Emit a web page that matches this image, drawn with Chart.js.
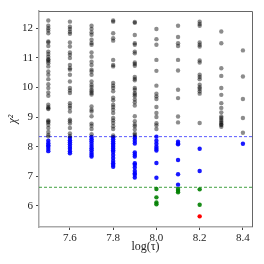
<!DOCTYPE html>
<html>
<head>
<meta charset="utf-8">
<script src="https://cdn.jsdelivr.net/npm/chart.js@4.4.0/dist/chart.umd.min.js"></script>
<style>
    html, body { margin: 0; padding: 0; background: #fff; }
    #wrap { width: 264px; height: 264px; }
</style>
</head>
<body>
<div id="wrap"><canvas id="myChart"></canvas></div>
<script>
// log(tau) columns
const tau = [7.5, 7.6, 7.7, 7.8, 7.9, 8.0, 8.1, 8.2, 8.3, 8.4];

// chi^2 values above the blue cut, one list per column
const chiGrey = [
    [12.26, 12.08, 12.0, 11.92, 11.83, 11.55, 11.52, 11.4, 11.21, 11.13, 11.04, 10.95, 10.93, 10.88, 10.82, 10.71, 10.54, 10.43, 10.28, 10.11, 9.98, 9.83, 9.72, 9.42, 9.34, 9.3, 9.27, 8.89, 8.85, 8.82, 8.74, 8.63, 8.5, 8.4, 8.35],
    [12.22, 12.05, 11.97, 11.88, 11.81, 11.52, 11.38, 11.18, 11.1, 10.99, 10.76, 10.65, 10.6, 10.43, 10.2, 9.98, 9.9, 9.81, 9.47, 9.38, 9.31, 9.19, 8.91, 8.86, 8.78, 8.63, 8.45, 8.36],
    [12.08, 11.97, 11.86, 11.78, 11.61, 11.5, 11.44, 11.18, 11.04, 10.87, 10.76, 10.6, 10.54, 10.43, 10.2, 10.09, 10.02, 9.93, 9.87, 9.81, 9.76, 9.36, 9.25, 9.19, 9.03, 8.78, 8.71, 8.6, 8.42],
    [12.26, 12.22, 11.83, 11.66, 11.58, 10.93, 10.76, 10.71, 10.15, 10.06, 9.98, 9.87, 9.65, 9.57, 9.42, 9.34, 9.25, 9.14, 8.97, 8.89, 8.8, 8.69, 8.6, 8.38],
    [12.21, 12.18, 11.77, 11.49, 11.44, 11.21, 11.15, 10.84, 10.79, 10.73, 10.35, 10.29, 10.24, 9.98, 9.92, 9.81, 9.76, 9.7, 9.59, 9.5, 9.39, 9.03, 8.86, 8.75, 8.69, 8.58, 8.45, 8.4],
    [11.97, 11.63, 11.44, 10.93, 10.56, 10.06, 9.79, 9.7, 9.61, 9.34, 9.14, 9.0, 8.79, 8.72, 8.6],
    [12.08, 11.7, 11.49, 11.4, 10.93, 10.57, 9.92, 9.64, 9.02, 8.82],
    [12.22, 12.14, 12.08, 11.52, 11.44, 11.38, 10.91, 10.84, 10.43, 10.35, 10.28, 10.09, 10.01, 9.95, 9.87, 9.79, 8.8],
    [11.89, 11.49, 10.65, 10.39, 9.98, 9.75, 9.47, 9.31, 9.16, 9.02, 8.97, 8.91, 8.85, 8.8, 8.75, 8.73, 8.67],
    [11.25, 10.37, 9.61, 8.97, 8.47]
];

// between the two cuts
const chiBlue = [
    [8.2, 8.12, 8.05, 8.0, 7.92, 7.85],
    [8.3, 8.22, 8.15, 8.08, 8.0, 7.93, 7.85, 7.78],
    [8.33, 8.25, 8.18, 8.1, 8.02, 7.95, 7.88, 7.8, 7.73, 7.67],
    [8.32, 8.25, 8.18, 8.12, 8.06, 8.0, 7.94, 7.88, 7.82, 7.72, 7.62, 7.52, 7.44, 7.38, 7.32],
    [8.34, 8.28, 8.19, 8.11, 7.81, 7.74, 7.67, 7.44, 7.39, 7.3, 7.18, 7.1, 7.05, 6.96],
    [8.34, 8.2, 8.1, 8.0, 7.93, 7.87, 7.45, 6.95],
    [8.17, 8.11, 8.08, 7.55, 7.07, 6.72],
    [7.93, 7.18],
    [],
    [8.1]
];

// below the green cut
const chiGreen = [[], [], [], [], [], [6.57, 6.29, 6.12, 6.06], [6.57, 6.51, 6.46], [6.56, 6.04], [], []];

// best point
const bestTau = [8.2];
const bestChi = [5.65];

const blueCut = 8.34;
const greenCut = 6.63;
const xRange = [7.457, 8.442];
const yRange = [5.29, 12.58];
const xTicks = [7.6, 7.8, 8.0, 8.2, 8.4];
const yTicks = [6, 7, 8, 9, 10, 11, 12];

function toPoints(groups) {
    let points = [];
    for (let i = 0; i < tau.length; i++) {
        for (let v of groups[i]) {
            points.push({x: tau[i], y: v});
        }
    }
    return points;
}

const serif = "'Liberation Serif', 'DejaVu Serif', serif";

const frame = {
    id: "frame",
    afterDraw(chart) {
        const a = chart.chartArea;
        const ctx = chart.ctx;
        ctx.save();
        ctx.strokeStyle = "#666";
        ctx.lineWidth = 1;
        ctx.beginPath();
        ctx.moveTo(a.left, a.top + 0.5);
        ctx.lineTo(a.right + 0.5, a.top + 0.5);
        ctx.lineTo(a.right + 0.5, a.bottom);
        ctx.stroke();
        ctx.restore();
    }
};

Chart.defaults.color = "#222";

new Chart("myChart", {
    type: "scatter",
    data: {
        datasets: [
            {
                data: toPoints(chiGrey),
                backgroundColor: "rgba(0, 0, 0, 0.45)",
                borderWidth: 0,
                pointRadius: 2.2
            },
            {
                data: toPoints(chiBlue),
                backgroundColor: "rgba(0, 0, 255, 0.9)",
                borderWidth: 0,
                pointRadius: 2.2
            },
            {
                data: toPoints(chiGreen),
                backgroundColor: "rgba(0, 128, 0, 0.9)",
                borderWidth: 0,
                pointRadius: 2.2
            },
            {
                data: bestTau.map((t, i) => ({x: t, y: bestChi[i]})),
                backgroundColor: "#ff0000",
                borderWidth: 0,
                pointRadius: 2.2
            },
            {
                type: "line",
                data: xRange.map(x => ({x: x, y: blueCut})),
                borderColor: "rgba(0, 0, 255, 0.65)",
                borderWidth: 1,
                borderDash: [3, 2],
                pointRadius: 0
            },
            {
                type: "line",
                data: xRange.map(x => ({x: x, y: greenCut})),
                borderColor: "rgba(0, 128, 0, 0.75)",
                borderWidth: 1,
                borderDash: [3, 2],
                pointRadius: 0
            }
        ]
    },
    options: {
        responsive: true,
        maintainAspectRatio: false,
        animation: false,
        layout: {
            padding: {top: 11, right: 12, left: 0, bottom: 0}
        },
        scales: {
            x: {
                type: "linear",
                min: xRange[0],
                max: xRange[1],
                afterBuildTicks: (scale) => {
                    scale.ticks = xTicks.map(v => ({value: v}));
                },
                afterFit: (scale) => {
                    scale.height = 37;
                },
                grid: {
                    drawOnChartArea: false,
                    drawTicks: true,
                    tickLength: 3,
                    color: "#444"
                },
                border: {
                    color: "#aaa",
                    width: 1.5
                },
                ticks: {
                    padding: 2,
                    color: "#222",
                    font: {size: 11, family: serif},
                    callback: (v) => v.toFixed(1)
                },
                title: {
                    display: true,
                    text: "log(τ)",
                    color: "#222",
                    padding: {top: 0, bottom: 10},
                    font: {size: 12, family: serif}
                }
            },
            y: {
                min: yRange[0],
                max: yRange[1],
                afterBuildTicks: (scale) => {
                    scale.ticks = yTicks.map(v => ({value: v}));
                },
                afterFit: (scale) => {
                    scale.width = 39;
                },
                grid: {
                    drawOnChartArea: false,
                    drawTicks: true,
                    tickLength: 3,
                    color: "#444"
                },
                border: {
                    color: "#aaa",
                    width: 1.5
                },
                ticks: {
                    padding: 3,
                    color: "#222",
                    font: {size: 11, family: serif}
                },
                title: {
                    display: true,
                    text: "χ²",
                    color: "#222",
                    padding: {top: 6, bottom: 0},
                    font: {size: 12, family: serif, style: "italic"}
                }
            }
        },
        plugins: {
            legend: {display: false},
            tooltip: {enabled: false}
        }
    },
    plugins: [frame]
});
</script>
</body>
</html>
